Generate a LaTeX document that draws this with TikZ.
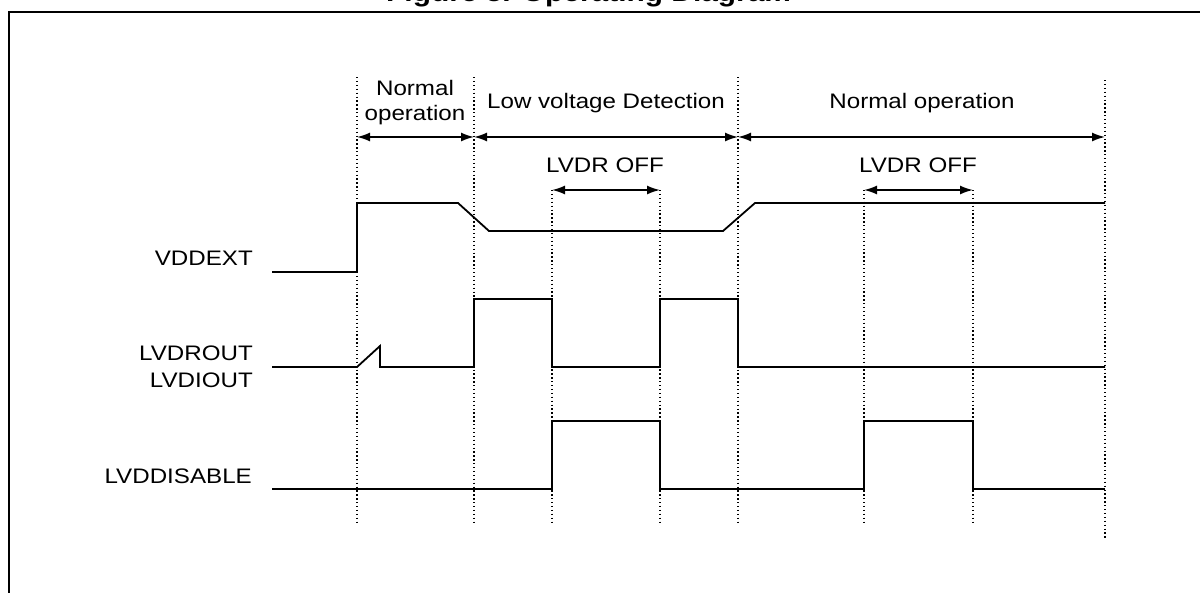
\documentclass[tikz,border=0pt]{standalone}
\usepackage{fontspec}
\setmainfont{Liberation Sans}[FakeStretch=1.15]
\usetikzlibrary{arrows.meta}
\begin{document}
\begin{tikzpicture}[x=1pt,y=-1pt,
  wave/.style={line width=1.8pt, line join=miter},
  guide/.style={line width=1.3pt, dash pattern=on 1.3pt off 2.6pt},
  span/.style={line width=1.6pt, {Latex[length=13pt,width=9pt]}-{Latex[length=13pt,width=9pt]}},
  lbl/.style={font=\fontsize{21}{25}\selectfont, inner sep=0pt},
  frameline/.style={line width=2.6pt}]
\useasboundingbox (0,0) rectangle (1200,592);
% frame
\coordinate (fr) at (1210,12);
\coordinate (fc) at (9,12);
\coordinate (fb) at (9,600);
\draw[frameline] (fr) -- (fc) -- (fb);
% title (cut off by the top edge)
\begin{scope}
\clip (0,0) rectangle (1200,592);
\node[anchor=base west, inner sep=0pt, font=\bfseries\fontsize{26}{30}\selectfont] (title) at (386,1) {Figure 5. Operating Diagram};
\end{scope}
% guide lines
\foreach \n/\x/\t/\b in {a/357/77/524, b/474/77/524, c/552/190/524, d/660/190/524, e/738/77/524, f/864/190/524, g/973/190/524, h/1105/80/538} {
  \coordinate (\n t) at (\x,\t);
  \coordinate (\n b) at (\x,\b);
  \draw[guide] (\n t) -- (\n b);
}
% span arrows
\coordinate (a1) at (357,137);
\coordinate (b1) at (474,137);
\coordinate (e1) at (738,137);
\coordinate (h1) at (1105,137);
\coordinate (c1) at (552,190);
\coordinate (d1) at (660,190);
\coordinate (f1) at (864,190);
\coordinate (g1) at (973,190);
\draw[span] (a1) -- (b1);
\draw[span] (b1) -- (e1);
\draw[span] (e1) -- (h1);
\draw[span] (c1) -- (d1);
\draw[span] (f1) -- (g1);
% span labels
\node[lbl, anchor=base] (n1a) at (415,95) {Normal};
\node[lbl, anchor=base] (n1b) at (415,120) {operation};
\node[lbl, anchor=base] (lvd) at (606,108) {Low voltage Detection};
\node[lbl, anchor=base] (n2) at (922,108) {Normal operation};
\node[lbl, anchor=base] (off1) at (605,172) {LVDR OFF};
\node[lbl, anchor=base] (off2) at (918,172) {LVDR OFF};
% signal labels
\node[lbl, anchor=base east] (s1) at (253,265) {VDDEXT};
\node[lbl, anchor=base east] (s2) at (253,360) {LVDROUT};
\node[lbl, anchor=base east] (s3) at (253,387) {LVDIOUT};
\node[lbl, anchor=base east] (s4) at (252,483) {LVDDISABLE};
% waveforms
\draw[wave] (272,272) -- (357,272) -- (357,203) -- (458,203) -- (489,231) -- (723,231) -- (755,203) -- (1105,203);
\draw[wave] (272,367) -- (357,367) -- (380,346) -- (380,367) -- (474,367) -- (474,299) -- (552,299) -- (552,367) -- (660,367) -- (660,299) -- (738,299) -- (738,367) -- (1105,367);
\draw[wave] (272,489) -- (552,489) -- (552,421) -- (660,421) -- (660,489) -- (864,489) -- (864,421) -- (973,421) -- (973,489) -- (1105,489);
\end{tikzpicture}
\end{document}
